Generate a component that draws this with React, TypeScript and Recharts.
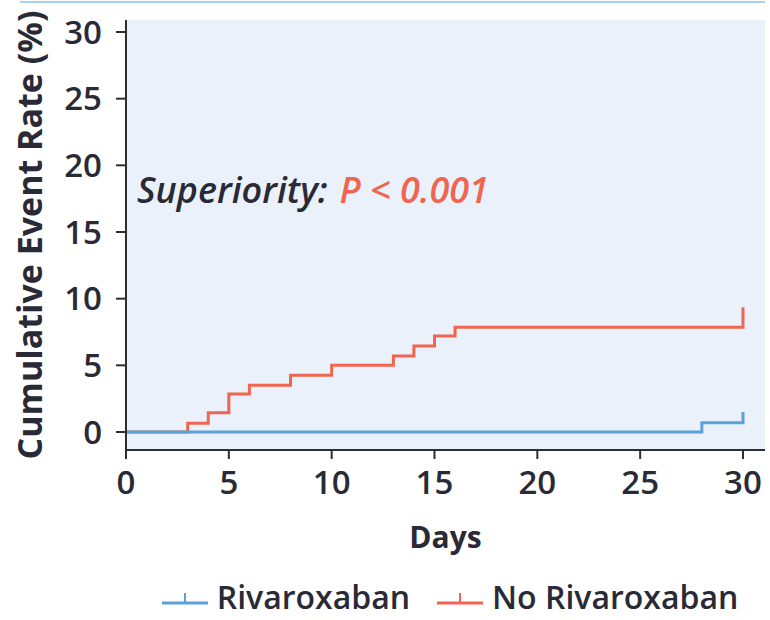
import {
  LineChart,
  Line,
  XAxis,
  YAxis,
  CartesianGrid,
  Legend,
  Customized,
} from "recharts";

const dayTicks = [0, 5, 10, 15, 20, 25, 30];
const rateTicks = [0, 5, 10, 15, 20, 25, 30];

// Kaplan-Meier style step points (last duplicate day = censor tick at end)
const noRivaDays = [0, 3, 4, 5, 6, 8, 10, 13, 14, 15, 16, 30, 30];
const noRivaRate = [0, 0.65, 1.45, 2.85, 3.5, 4.25, 5.0, 5.7, 6.45, 7.2, 7.85, 7.85, 9.35];

const rivaDays = [0, 28, 30, 30];
const rivaRate = [0, 0.7, 0.7, 1.5];

const RED = "#f0654f";
const BLUE = "#5aa2da";
const INK = "#2a2a36";
const FONT = "'Open Sans', 'Noto Sans', sans-serif";

const noRivaData = noRivaDays.map((d, i) => ({ day: d, rate: noRivaRate[i] }));
const rivaData = rivaDays.map((d, i) => ({ day: d, rate: rivaRate[i] }));

const legendItems = [
  { name: "Rivaroxaban", color: BLUE },
  { name: "No Rivaroxaban", color: RED },
];

function CensorLegend() {
  return (
    <div
      style={{
        display: "flex",
        justifyContent: "center",
        alignItems: "center",
        gap: 26,
        fontFamily: FONT,
        fontSize: 32,
        fontWeight: 600,
        lineHeight: "44px",
        height: 44,
        color: INK,
        paddingLeft: 134,
      }}
    >
      {legendItems.map((it) => (
        <div key={it.name} style={{ display: "flex", alignItems: "center", gap: 8 }}>
          <svg width={48} height={20}>
            <line x1={1} y1={16} x2={47} y2={16} stroke={it.color} strokeWidth={3} />
            <line x1={24} y1={16} x2={24} y2={6} stroke={it.color} strokeWidth={2} />
          </svg>
          <span>{it.name}</span>
        </div>
      ))}
    </div>
  );
}

function PValue() {
  return (
    <text x={137} y={203} fontFamily={FONT} fontSize={36} fontWeight={600} fontStyle="italic">
      <tspan fill={INK}>Superiority:</tspan>
      <tspan fill={RED} dx={12}>P &lt; 0.001</tspan>
    </text>
  );
}

export default function App() {
  return (
    <div style={{ position: "absolute", left: 0, top: 0, width: 770, height: 620, background: "#fff" }}>
      <div
        style={{
          position: "absolute",
          left: 20,
          top: 1,
          width: 745,
          height: 2,
          background: "#a9d0ef",
        }}
      />
      <LineChart
        width={770}
        height={620}
        margin={{ top: 20, right: 5, left: 0, bottom: 6 }}
      >
        <CartesianGrid horizontal={false} vertical={false} fill="#eaf1fa" />
        <XAxis
          type="number"
          dataKey="day"
          domain={[0, 31.07]}
          ticks={dayTicks}
          allowDuplicatedCategory={false}
          stroke="#2e2e2e"
          strokeWidth={2}
          tickSize={9}
          tickMargin={12}
          height={120}
          tick={{ fill: INK, fontSize: 33, fontWeight: 600, fontFamily: FONT }}
          label={{
            value: "Days",
            position: "insideTop",
            offset: 77,
            style: { fill: INK, fontSize: 30, fontWeight: 700, fontFamily: FONT },
          }}
        />
        <YAxis
          type="number"
          domain={[-1.35, 30.9]}
          ticks={rateTicks}
          stroke="#2e2e2e"
          strokeWidth={2}
          tickSize={10}
          tickMargin={14}
          width={126}
          tick={{ fill: INK, fontSize: 33, fontWeight: 600, fontFamily: FONT }}
          label={{
            value: "Cumulative Event Rate (%)",
            angle: -90,
            position: "insideLeft",
            offset: 30,
            style: {
              fill: INK,
              fontSize: 34,
              fontWeight: 700,
              fontFamily: FONT,
              textAnchor: "middle",
            },
          }}
        />
        <Line
          data={noRivaData}
          dataKey="rate"
          type="stepAfter"
          stroke={RED}
          strokeWidth={3}
          dot={false}
          isAnimationActive={false}
        />
        <Line
          data={rivaData}
          dataKey="rate"
          type="stepAfter"
          stroke={BLUE}
          strokeWidth={3}
          dot={false}
          isAnimationActive={false}
        />
        <Customized component={PValue} />
        <Legend
          verticalAlign="bottom"
          height={44}
          content={() => <CensorLegend />}
          wrapperStyle={{ bottom: 1 }}
        />
      </LineChart>
    </div>
  );
}
